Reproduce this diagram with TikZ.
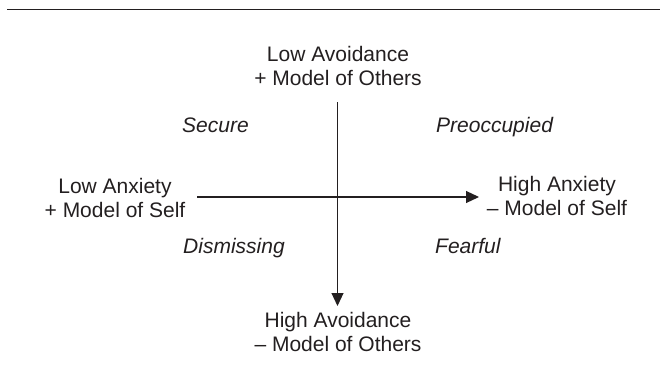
\documentclass[tikz,border=0pt]{standalone}
\usepackage{fontspec}
\setmainfont{Liberation Sans}
\usetikzlibrary{arrows.meta}
\definecolor{ink}{HTML}{231F20}
\tikzset{
  lbl/.style={font=\fontsize{21}{24}\selectfont, text=ink, align=center, inner sep=0pt, anchor=base},
  quad/.style={font=\fontsize{21}{24}\selectfont\itshape, text=ink, inner sep=0pt, anchor=base west},
  axis/.style={draw=ink, line width=1.1pt, -{Triangle[length=13pt,width=12pt]}},
  rule/.style={draw=ink, line width=1.3pt}
}
\begin{document}
\begin{tikzpicture}[x=1pt,y=-1pt]
\useasboundingbox (0,0) rectangle (660,388);
\coordinate (rl) at (7,9.7);
\coordinate (rr) at (660,9.7);
\draw[rule] (rl) -- (rr);
\node[lbl] (lowav) at (338,85) {Low Avoidance\\+ Model of Others};
\node[lbl] (highav) at (338,351) {High Avoidance\\– Model of Others};
\node[lbl] (lowanx) at (115,217) {Low Anxiety\\+ Model of Self};
\node[lbl] (highanx) at (557,215) {High Anxiety\\– Model of Self};
\node[quad] (sec) at (182,132) {Secure};
\node[quad] (pre) at (436,132) {Preoccupied};
\node[quad] (dis) at (183,253) {Dismissing};
\node[quad] (fea) at (435,253) {Fearful};
\coordinate (vs) at (337.5,102);
\coordinate (ve) at (337.5,306);
\coordinate (hs) at (197,197);
\coordinate (he) at (479,197);
\draw[axis] (vs) -- (ve);
\draw[axis] (hs) -- (he);
\end{tikzpicture}
\end{document}
